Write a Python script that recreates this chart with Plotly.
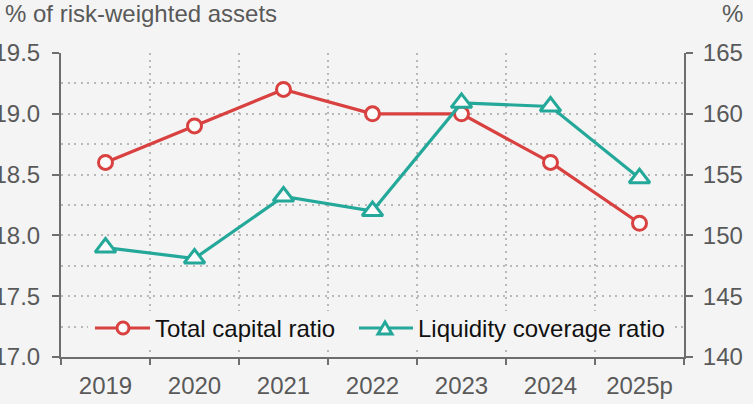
import plotly.graph_objects as go

years = ["2019", "2020", "2021", "2022", "2023", "2024", "2025p"]
total_capital_ratio = [18.6, 18.9, 19.2, 19.0, 19.0, 18.6, 18.1]
liquidity_coverage_ratio = [149.0, 148.1, 153.2, 152.0, 160.9, 160.6, 154.7]
series_names = ["Total capital ratio", "Liquidity coverage ratio"]

RED = "#d8413f"
TEAL = "#24a899"
BG = "#f4f4f4"
FILL = "#fbfbfb"
AXIS = "#6e6e6e"
GRID = "#b8b8b8"
FAMILY = "Liberation Sans, Arial, sans-serif"
TICKFONT = dict(family=FAMILY, size=24, color="#595959")
TITLEFONT = dict(family=FAMILY, size=24, color="#595959")
LEGENDFONT = dict(family=FAMILY, size=24, color="#111111")

W, H = 753, 404
ML, MR, MT, MB = 61, 69, 53, 47
PW, PH = W - ML - MR, H - MT - MB


def px(x):
    return (x - ML) / PW


def py(y):
    return (H - MB - y) / PH


fig = go.Figure()
fig.add_trace(go.Scatter(
    x=years, y=total_capital_ratio, name=series_names[0],
    mode="lines+markers",
    line=dict(color=RED, width=3.2),
    marker=dict(symbol="circle", size=14, color=FILL,
                line=dict(color=RED, width=3)),
))
fig.add_trace(go.Scatter(
    x=years, y=liquidity_coverage_ratio, name=series_names[1],
    mode="lines+markers", yaxis="y2",
    line=dict(color=TEAL, width=3.2),
    marker=dict(symbol="triangle-up", size=18, color=FILL,
                line=dict(color=TEAL, width=3)),
))

# Hand-drawn legend: backing box, line samples, marker samples, labels
LEG_Y = 328
shapes = [
    dict(type="rect", xref="paper", yref="paper", layer="above",
         x0=px(88), x1=px(672), y0=py(345), y1=py(311),
         fillcolor=BG, line=dict(width=0)),
    dict(type="line", xref="paper", yref="paper", layer="above",
         x0=px(95), x1=px(150), y0=py(LEG_Y), y1=py(LEG_Y),
         line=dict(color=RED, width=3.2)),
    dict(type="circle", xref="paper", yref="paper", layer="above",
         xsizemode="pixel", ysizemode="pixel",
         xanchor=px(123), yanchor=py(LEG_Y),
         x0=-6, x1=6, y0=-6, y1=6,
         fillcolor=FILL, line=dict(color=RED, width=3)),
    dict(type="line", xref="paper", yref="paper", layer="above",
         x0=px(359), x1=px(413), y0=py(LEG_Y), y1=py(LEG_Y),
         line=dict(color=TEAL, width=3.2)),
    dict(type="path", xref="paper", yref="paper", layer="above",
         xsizemode="pixel", ysizemode="pixel",
         xanchor=px(385), yanchor=py(LEG_Y + 1),
         path="M -7,-5 L 7,-5 L 0,7 Z",
         fillcolor=FILL, line=dict(color=TEAL, width=3)),
]

annotations = [
    dict(text="% of risk-weighted assets", xref="paper", yref="paper",
         x=px(3), y=py(14), xanchor="left", yanchor="middle",
         showarrow=False, font=TITLEFONT),
    dict(text="%", xref="paper", yref="paper",
         x=px(745), y=py(14), xanchor="right", yanchor="middle",
         showarrow=False, font=TITLEFONT),
    dict(text=series_names[0], xref="paper", yref="paper",
         x=px(153), y=py(LEG_Y), xanchor="left", yanchor="middle",
         showarrow=False, font=LEGENDFONT),
    dict(text=series_names[1], xref="paper", yref="paper",
         x=px(416), y=py(LEG_Y), xanchor="left", yanchor="middle",
         showarrow=False, font=LEGENDFONT),
]

DOTS = "2px,4.6px"

fig.update_layout(
    width=W, height=H,
    margin=dict(l=ML, r=MR, t=MT, b=MB, autoexpand=False),
    paper_bgcolor=BG, plot_bgcolor=BG,
    font=TICKFONT,
    showlegend=False,
    xaxis=dict(
        type="category", tickson="boundaries", automargin=False,
        showline=True, linecolor=AXIS, linewidth=2,
        ticks="outside", ticklen=6, tickwidth=2, tickcolor=AXIS,
        showgrid=True, gridcolor=GRID, griddash=DOTS, gridwidth=2,
        tickfont=TICKFONT, range=[-0.5, 6.5], ticklabelstandoff=6,
    ),
    yaxis=dict(
        range=[17.0, 19.5], dtick=0.5, tickformat=".1f", automargin=False,
        showline=True, linecolor=AXIS, linewidth=2,
        ticks="outside", ticklen=7, tickwidth=2, tickcolor=AXIS,
        showgrid=True, gridcolor=GRID, griddash=DOTS, gridwidth=2,
        minor=dict(dtick=0.25, showgrid=True, gridcolor=GRID,
                   griddash=DOTS, gridwidth=2, ticks=""),
        zeroline=False, tickfont=TICKFONT, ticklabelstandoff=7,
    ),
    yaxis2=dict(
        range=[140, 165], dtick=5, overlaying="y", side="right",
        automargin=False,
        showline=True, linecolor=AXIS, linewidth=2,
        ticks="outside", ticklen=7, tickwidth=2, tickcolor=AXIS,
        showgrid=False, zeroline=False, tickfont=TICKFONT,
        ticklabelstandoff=5,
    ),
    shapes=shapes,
    annotations=annotations,
)

fig.write_html("out.html")
